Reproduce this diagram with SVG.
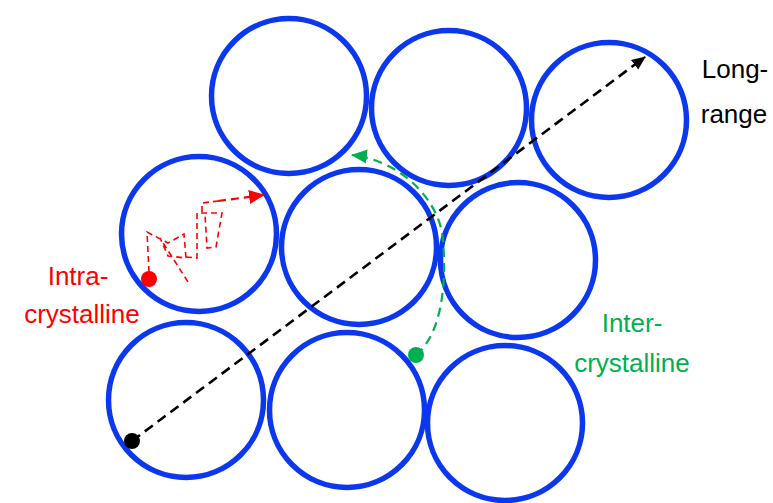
<svg xmlns="http://www.w3.org/2000/svg" width="773" height="503" viewBox="0 0 773 503">
<style>
.c{fill:none;stroke:#0B37EE;stroke-width:5.5}
.t{font-family:"Liberation Sans",Arial,sans-serif;font-size:26px;text-anchor:middle}
</style>
<defs>
<marker id="ak" markerWidth="14" markerHeight="14" refX="13" refY="7" orient="auto" markerUnits="userSpaceOnUse" viewBox="0 0 14 14"><path d="M0,1 L14,7 L0,13 Z" fill="#000"/></marker>
<marker id="ar" markerWidth="16" markerHeight="16" refX="15" refY="8" orient="auto" markerUnits="userSpaceOnUse" viewBox="0 0 16 16"><path d="M0,1 L16,8 L0,15 Z" fill="#FF0000"/></marker>
<marker id="ag" markerWidth="16" markerHeight="16" refX="15" refY="8" orient="auto" markerUnits="userSpaceOnUse" viewBox="0 0 16 16"><path d="M0,1 L16,8 L0,15 Z" fill="#00B050"/></marker>
</defs>
<rect width="773" height="503" fill="#fff"/>
<g id="n1"><circle class="c" cx="289" cy="96" r="77.5"/></g>
<g id="n2"><circle class="c" cx="449" cy="108" r="77.5"/></g>
<g id="n3"><circle class="c" cx="609" cy="120" r="77.5"/></g>
<g id="n4"><circle class="c" cx="199" cy="234" r="77.5"/></g>
<g id="n5"><circle class="c" cx="359" cy="247" r="77.5"/></g>
<g id="n6"><circle class="c" cx="518" cy="260" r="77.5"/></g>
<g id="n7"><circle class="c" cx="186" cy="400" r="77.5"/></g>
<g id="n8"><circle class="c" cx="347" cy="410" r="77.5"/></g>
<g id="n9"><circle class="c" cx="505" cy="423" r="77.5"/></g>
<g id="connectors">
<line x1="132" y1="441" x2="645" y2="57" stroke="#000" stroke-width="2.6" stroke-dasharray="10,6" marker-end="url(#ak)"/>
<circle cx="132" cy="441" r="8" fill="#000"/>
<g fill="none" stroke="#FF0000" stroke-width="1.6" stroke-dasharray="6,4">
<path d="M149,272 L147,232 L168,243 L184,234 L186,258 L168,256 L160,238 L188,282"/>
<path d="M186,257 L197,258 L197,213 L222,213 L216,247 L207,248 L205,214"/>
<path d="M202,212 L202,203 L218,201" />
</g>
<path d="M218,201 L264,195" fill="none" stroke="#FF0000" stroke-width="2.2" stroke-dasharray="8,5" marker-end="url(#ar)"/>
<circle cx="149" cy="279" r="8" fill="#FF0000"/>
<path d="M416,355 C440,335 447,290 443,240 C440,200 400,160 352,155" fill="none" stroke="#00B050" stroke-width="2.2" stroke-dasharray="9,6" marker-end="url(#ag)"/>
<circle cx="416" cy="355" r="8" fill="#00B050"/>
</g>
<g id="labels">
<text class="t" x="735" y="78">Long-</text>
<text class="t" x="734" y="123">range</text>
<text class="t" x="78" y="285" fill="#FF0000">Intra-</text>
<text class="t" x="82" y="323" fill="#FF0000">crystalline</text>
<text class="t" x="632" y="332" fill="#00B050">Inter-</text>
<text class="t" x="632" y="372" fill="#00B050">crystalline</text>
</g>
</svg>
